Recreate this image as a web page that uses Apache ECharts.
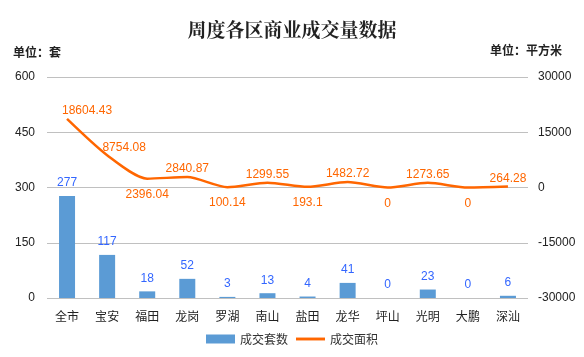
<!DOCTYPE html>
<html><head><meta charset="utf-8">
<script src="https://cdn.jsdelivr.net/npm/echarts@6/dist/echarts.min.js"></script>
<style>html,body{margin:0;padding:0;background:#fff}#c{width:584px;height:357px}</style>
</head><body><div id="c"></div>
<script>
const categories = ['全市','宝安','福田','龙岗','罗湖','南山','盐田','龙华','坪山','光明','大鹏','深汕'];
const units = [277,117,18,52,3,13,4,41,0,23,0,6];
const areas = [18604.43,8754.08,2396.04,2840.87,100.14,1299.55,193.1,1482.72,0,1273.65,0,264.28];
const leftTicks = [0,150,300,450,600];
const rightTicks = [-30000,-15000,0,15000,30000];

const labelPos = ['top','top','bottom','top','bottom','top','bottom','top','bottom','top','bottom','top'];
const labelOff = [[20,0],[17,0],[0,0],[0,0],[0,0],[0,0],[0,0],[0,0],[0,0],[0,0],[0,0],[0,0]];

const chart = echarts.init(document.getElementById('c'));
const font = 'Microsoft YaHei, "Noto Sans CJK SC", sans-serif';
chart.setOption({
  animation:false,
  backgroundColor:'#fff',
  title:{text:'周度各区商业成交量数据',left:'center',top:15,
    textStyle:{fontFamily:'"Noto Serif CJK SC","Noto Sans CJK SC",serif',fontSize:19,fontWeight:'bold',color:'#222'}},
  graphic:[
    {type:'text',left:13,top:46,style:{text:'单位：套',font:'bold 12px "Noto Sans CJK SC"',fill:'#222'}},
    {type:'text',right:22,top:44,style:{text:'单位：平方米',font:'bold 12px "Noto Sans CJK SC"',fill:'#222'}}
  ],
  legend:{bottom:7,left:'center',itemGap:8,itemWidth:29,itemHeight:9,
    textStyle:{fontFamily:font,fontSize:12,color:'#333'},
    data:[{name:'成交套数',icon:'rect'},{name:'成交面积',icon:'path://M0,0H30V3H0Z'}]},
  grid:{left:47,right:56,top:77,bottom:59},
  xAxis:{type:'category',data:categories,
    axisLine:{show:false},axisTick:{show:false},
    axisLabel:{fontFamily:font,fontSize:12,color:'#222',margin:12}},
  yAxis:[
    {type:'value',min:leftTicks[0],max:leftTicks[leftTicks.length-1],interval:150,
      axisLine:{show:false},axisTick:{show:false},
      axisLabel:{fontFamily:'Arial, sans-serif',fontSize:12,color:'#222',margin:12},
      splitLine:{lineStyle:{color:'#c0c0c0',width:1}}},
    {type:'value',min:rightTicks[0],max:rightTicks[rightTicks.length-1],interval:15000,
      axisLine:{show:false},axisTick:{show:false},
      axisLabel:{fontFamily:'Arial, sans-serif',fontSize:12,color:'#222',margin:10,formatter:v=>String(v)},
      splitLine:{show:false}}
  ],
  series:[
    {name:'成交套数',type:'bar',data:units,barWidth:16,
      itemStyle:{color:'#5b9bd5'},
      label:{show:true,position:'top',distance:7,color:'#3366ff',fontFamily:'Arial, sans-serif',fontSize:12}},
    {name:'成交面积',type:'line',yAxisIndex:1,smooth:0.25,symbol:'circle',symbolSize:0.1,showSymbol:true,
      lineStyle:{color:'#ff6600',width:2.5},itemStyle:{color:'#ff6600'},
      data:areas.map((v,i)=>({value:v,label:{show:true,position:labelPos[i],offset:labelOff[i],distance:labelPos[i]==='top'?2:10}})),
      label:{show:true,color:'#ff6600',fontFamily:'Arial, sans-serif',fontSize:12}}
  ]
});
</script></body></html>
